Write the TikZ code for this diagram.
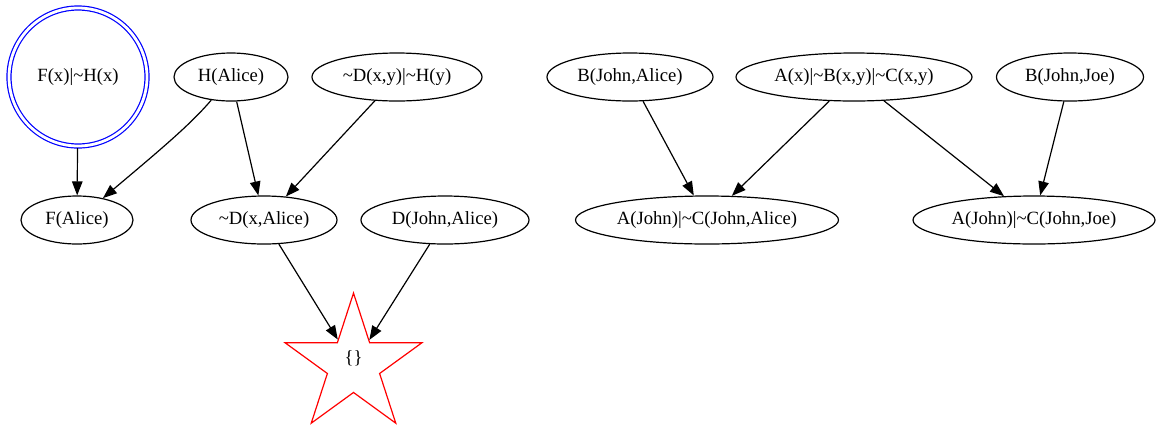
\documentclass[tikz,border=0pt]{standalone}
\usepackage{fontspec}
\setmainfont{Liberation Serif}
\usetikzlibrary{shapes.geometric,arrows.meta}
\newcommand{\zl}[1]{\makebox[0pt]{#1}}
\begin{document}
\begin{tikzpicture}[x=1bp,y=-1bp,
  every node/.style={font=\fontsize{18.67bp}{22bp}\selectfont},
  ell/.style={ellipse,draw,line width=1.2bp,inner sep=0pt,minimum height=48bp},
  edge/.style={draw,line width=1.2bp,-{Triangle[length=14bp,width=10.5bp]}}]
\useasboundingbox (0,0) rectangle (1160,429);

\node[draw=blue,circle,double,double distance=2.8bp,line width=1.2bp,minimum size=138bp,inner sep=0pt,outer sep=2bp] (fh) at (78,77) {F(x)|\textasciitilde H(x)};

\node[ell,minimum width=112bp] (fA) at (77,220) {\zl{F(Alice)}};
\node[ell,minimum width=114bp] (hA) at (231,77) {\zl{H(Alice)}};
\node[ell,minimum width=170bp] (dxy) at (397,77) {\zl{\textasciitilde D(x,y)|\textasciitilde H(y)}};
\node[ell,minimum width=146bp] (dxA) at (264,220) {\zl{\textasciitilde D(x,Alice)}};
\node[ell,minimum width=168bp] (dJA) at (445,220) {\zl{D(John,Alice)}};
\node[ell,minimum width=166bp] (bJA) at (630,77) {\zl{B(John,Alice)}};
\node[ell,minimum width=236bp] (axyz) at (854,77) {\zl{A(x)|\textasciitilde B(x,y)|\textasciitilde C(x,y)}};
\node[ell,minimum width=147bp] (bJJ) at (1070,77) {\zl{B(John,Joe)}};
\node[ell,minimum width=263bp] (aJA) at (707,220) {\zl{A(John)|\textasciitilde C(John,Alice)}};
\node[ell,minimum width=242bp] (aJJ) at (1034,220) {\zl{A(John)|\textasciitilde C(John,Joe)}};

\node[star,star points=5,star point ratio=2.618,draw=red,line width=1.2bp,minimum size=143.8bp,inner sep=0pt,label={[yshift=7bp]center:\{\}}] (st) at (353.5,365) {};

\draw[edge] (fh) -- (fA);
\draw[edge] (hA) .. controls (190,125) and (160,150) .. (fA);
\draw[edge] (hA) -- (dxA);
\draw[edge] (dxy) -- (dxA);
\draw[edge] (dxA) -- (st);
\draw[edge] (dJA) -- (st);
\draw[edge] (bJA) -- (aJA);
\draw[edge] (axyz) -- (aJA);
\draw[edge] (axyz) -- (aJJ);
\draw[edge] (bJJ) -- (aJJ);
\end{tikzpicture}
\end{document}
